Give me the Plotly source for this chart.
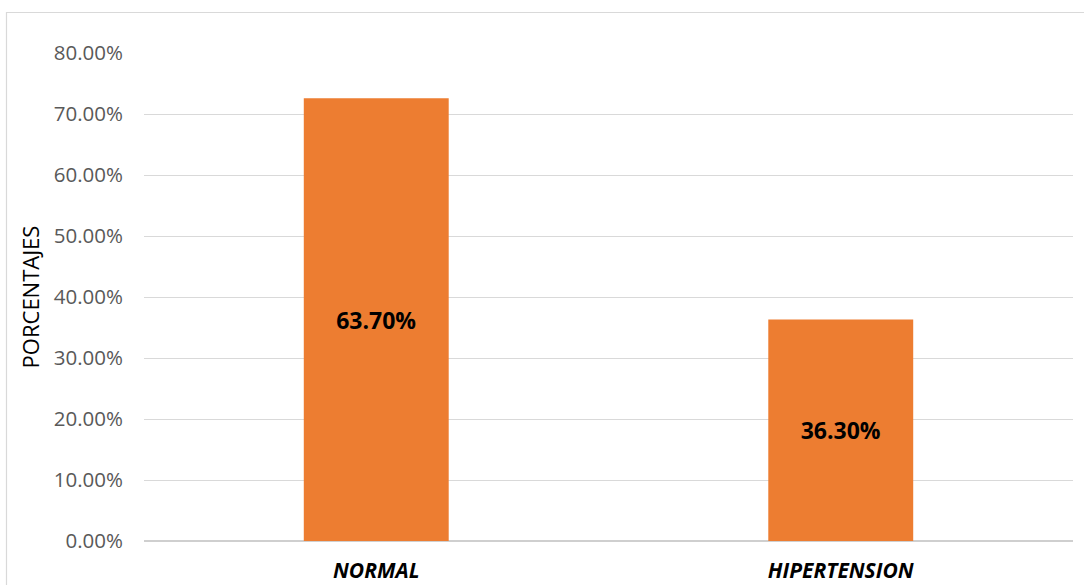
import plotly.graph_objects as go

categories = ["NORMAL", "HIPERTENSION"]
bar_values = [72.6, 36.3]
bar_labels = ["63.70%", "36.30%"]
tick_values = [0, 10, 20, 30, 40, 50, 60, 70, 80]
tick_labels = ["0.00%", "10.00%", "20.00%", "30.00%", "40.00%", "50.00%", "60.00%", "70.00%", "80.00%"]

FONT = "'Open Sans', Lato, sans-serif"

fig = go.Figure(go.Bar(
    x=[f"<b><i>{c}</i></b>" for c in categories],
    y=bar_values,
    text=bar_labels,
    textposition="inside",
    insidetextanchor="middle",
    textfont=dict(family=FONT, size=23, color="#000000", weight="bold"),
    marker=dict(color="#ED7D31", line=dict(width=0)),
    width=0.312,
    hoverinfo="skip",
))

fig.update_layout(
    width=1084, height=585,
    margin=dict(l=144, r=11, t=53, b=44, autoexpand=False),
    paper_bgcolor="white", plot_bgcolor="white",
    showlegend=False,
    font=dict(family=FONT),
    xaxis=dict(
        showgrid=False, showline=False, ticks="", automargin=False,
        ticklabelstandoff=15,
        tickfont=dict(family=FONT, size=21, color="#000000"),
    ),
    yaxis=dict(
        range=[0, 80], tickvals=tick_values, ticktext=tick_labels,
        showgrid=True, gridcolor="#d9d9d9", gridwidth=1.3,
        zeroline=True, zerolinecolor="#cfcfcf", zerolinewidth=2,
        showline=False, ticks="", automargin=False,
        ticklabelstandoff=20,
        tickfont=dict(family=FONT, size=20.5, color="#595959"),
        title=dict(text="PORCENTAJES", font=dict(family=FONT, size=22, color="#000000"), standoff=8),
    ),
    shapes=[dict(
        type="rect", xref="paper", yref="paper",
        x0=(6.5 - 144) / 929, x1=1.05,
        y0=-0.2, y1=(541 - 12.5) / 488,
        line=dict(color="#d9d9d9", width=1.2), fillcolor="rgba(0,0,0,0)", layer="below",
    )],
)

fig.write_html("out.html")
